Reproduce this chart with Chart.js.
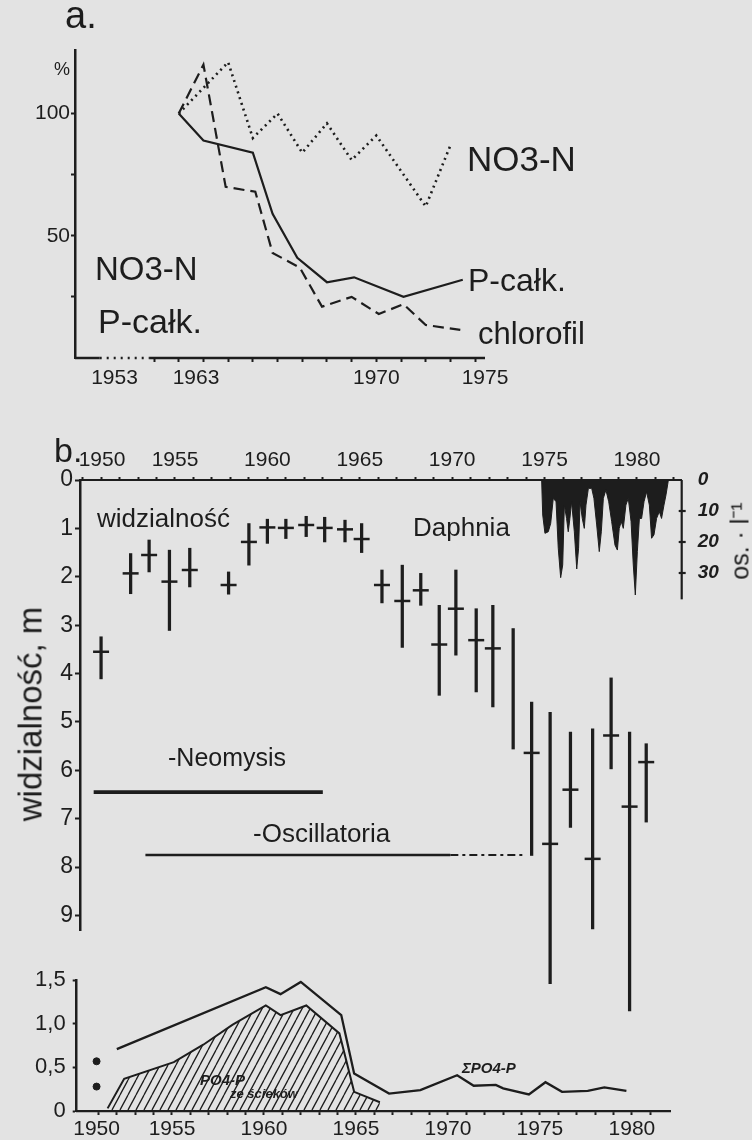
<!DOCTYPE html>
<html>
<head>
<meta charset="utf-8">
<script src="https://cdn.jsdelivr.net/npm/chart.js@4.4.0/dist/chart.umd.min.js"></script>
<style>
  body { margin: 0; background: #e3e3e3; }
  #page { position: relative; width: 752px; height: 1140px; overflow: hidden; background: #e3e3e3;
          font-family: "Liberation Sans", Arial, sans-serif; color: #1d1d1d; }
  #page canvas { position: absolute; left: 0; }
  .t { position: absolute; white-space: nowrap; line-height: 1; }
</style>
</head>
<body>
<div id="page">
  <canvas id="chart-a" width="752" height="400" style="top:0"></canvas>
  <canvas id="chart-b" width="752" height="600" style="top:440px"></canvas>
  <canvas id="chart-c" width="752" height="180" style="top:960px"></canvas>
</div>
<script>
// ---- a. relative change, % (1963 = 100)
const aYearsP = [1963, 1964, 1966, 1966.8, 1967.8, 1969, 1970.1, 1972.1, 1974.5];
const aPcalk = [100, 89, 84, 59, 41, 31, 33, 25, 32];
const aYearsChl = [1963, 1964, 1964.9, 1966.1, 1966.8, 1967.9, 1968.8, 1970, 1971.1, 1972.1, 1973, 1974.4];
const aChlorofil = [100, 120, 70, 68, 43, 37, 21, 25, 18, 22, 13.5, 11.5];
const aYearsNO3 = [1963, 1965, 1966, 1967, 1968, 1969, 1970, 1971, 1973, 1974];
const aNO3 = [100, 121, 90, 100, 84, 96, 81, 91, 62, 87];
const aTickLabels = ["1953", "1963", "1970", "1975"];

// ---- b. visibility (m): range and mean
const bYears = [1951.0, 1952.6, 1953.6, 1954.7, 1955.8, 1957.9, 1959.0, 1960.0, 1961.0, 1962.1, 1963.1, 1964.2, 1965.1, 1966.2,
                1967.3, 1968.3, 1969.3, 1970.2, 1971.3, 1972.2, 1973.3, 1974.3, 1975.3, 1976.4, 1977.6, 1978.6, 1979.6, 1980.5];
const bMin = [3.24, 1.52, 1.24, 1.45, 1.41, 1.90, 0.90, 0.81, 0.81, 0.75, 0.77, 0.83, 0.90, 1.86,
              1.76, 1.93, 2.59, 1.86, 2.66, 2.59, 3.07, 4.59, 4.80, 5.21, 5.14, 4.09, 5.21, 5.45];
const bMean = [3.55, 1.93, 1.55, 2.10, 1.86, 2.17, 1.28, 0.98, 0.99, 0.93, 0.99, 1.02, 1.22, 2.17,
               2.50, 2.28, 3.40, 2.66, 3.31, 3.48, null, 5.64, 7.52, 6.40, 7.83, 5.28, 6.75, 5.83];
const bMax = [4.11, 2.35, 1.90, 3.11, 2.21, 2.36, 1.76, 1.31, 1.21, 1.17, 1.28, 1.28, 1.50, 2.54,
              3.46, 2.59, 4.45, 3.62, 4.38, 4.69, 5.56, 7.76, 10.41, 7.18, 9.28, 5.97, 10.97, 7.07];
const neomysisYears = [1950.6, 1963.0];
const neomysisDepth = [6.45, 6.45];
const oscillYears = [1953.4, 1969.9];
const oscillLaterYears = [1969.9, 1974.0];
const oscillDepth = [7.75, 7.75];

// Daphnia, os. l-1
const daphniaYears = [1974.84, 1974.90, 1975.02, 1975.20, 1975.33, 1975.47, 1975.62, 1975.74, 1975.87, 1975.98, 1976.07, 1976.19,
  1976.28, 1976.37, 1976.46, 1976.61, 1976.74, 1976.84, 1976.92, 1977.04, 1977.15, 1977.24, 1977.37, 1977.55, 1977.67, 1977.82,
  1977.96, 1978.07, 1978.18, 1978.32, 1978.47, 1978.63, 1978.81, 1978.94, 1979.04, 1979.15, 1979.26, 1979.40, 1979.53, 1979.68,
  1979.80, 1979.91, 1980.02, 1980.13, 1980.25, 1980.38, 1980.52, 1980.67, 1980.79, 1980.92, 1981.06, 1981.21, 1981.33, 1981.46,
  1981.57, 1981.70];
const daphniaDensity = [0, 11.3, 17.2, 16.7, 14.0, 5.9, 7.0, 22.0, 31.5, 27.4, 8.1, 12.4,
  16.7, 12.4, 7.0, 16.7, 28.7, 22.0, 7.0, 12.4, 15.6, 8.1, 2.7, 2.7, 5.9, 14.5,
  23.1, 16.7, 5.9, 3.2, 7.0, 13.4, 21.0, 22.6, 15.6, 13.4, 15.6, 8.1, 5.9, 13.4,
  27.4, 37.1, 23.1, 12.4, 12.4, 7.0, 3.8, 8.1, 18.8, 17.7, 12.4, 10.2, 12.4, 8.1,
  4.8, 0];

// ---- bottom: phosphate, mg/l
const cYearsTotal = [1952.0, 1960.1, 1960.9, 1962.0, 1964.2, 1964.9, 1966.8, 1968.5, 1970.5, 1971.4, 1972.6, 1973.0,
                     1974.4, 1975.3, 1976.2, 1977.6, 1978.5, 1979.7];
const cTotalP = [0.71, 1.42, 1.34, 1.48, 1.10, 0.43, 0.20, 0.24, 0.41, 0.29, 0.30, 0.26,
                 0.19, 0.33, 0.22, 0.23, 0.27, 0.23];
const cYearsSewage = [1951.5, 1952.4, 1955.1, 1956.7, 1958.3, 1960.1, 1960.9, 1962.3, 1964.1, 1964.9, 1966.3];
const cSewageP = [0.03, 0.37, 0.56, 0.76, 0.99, 1.21, 1.10, 1.21, 0.89, 0.22, 0.10];
const cDotYears = [1950.9, 1950.9];
const cDotValues = [0.57, 0.28];

const INK = "#1d1d1d";
Chart.defaults.font.family = '"Liberation Sans", Arial, sans-serif';
Chart.defaults.color = INK;
Chart.defaults.animation = false;
Chart.defaults.plugins.legend.display = false;
Chart.defaults.plugins.tooltip.enabled = false;

function pts(xs, ys) {
  return xs.map((x, i) => ({ x: x, y: ys[i] })).filter(p => p.y !== null);
}
function yearTicks(from, to, step) {
  const t = [];
  for (let v = from; v <= to + 1e-9; v += step) t.push({ value: Math.round(v * 100) / 100 });
  return t;
}
function line(ctx, x1, y1, x2, y2) {
  ctx.beginPath(); ctx.moveTo(x1, y1); ctx.lineTo(x2, y2); ctx.stroke();
}
function lineSet(xs, ys, extra) {
  return Object.assign({ type: "line", data: pts(xs, ys), borderColor: INK, borderWidth: 2.2, pointRadius: 0, tension: 0, fill: false }, extra);
}
// tick marks only where no extra label tick sits
const tickInk = c => (c.tick && c.tick.lbl ? "rgba(0,0,0,0)" : INK);
const tickText = (v, i, t) => (t[i].lbl !== undefined ? t[i].lbl : "");

// ---- chart a
const aLabelAt = [1960.4, 1963.7, 1971.0, 1975.4];
new Chart(document.getElementById("chart-a"), {
  type: "line",
  data: {
    datasets: [
      lineSet(aYearsP, aPcalk),
      lineSet(aYearsChl, aChlorofil, { borderDash: [11, 6] }),
      lineSet(aYearsNO3, aNO3, { borderWidth: 2.6, borderDash: [2, 4] })
    ]
  },
  options: {
    responsive: false,
    layout: { padding: { left: 0, top: 50, right: 267, bottom: 0 } },
    scales: {
      x: {
        type: "linear", min: 1958.8, max: 1975.4,
        afterFit: s => { s.height = 42; },
        afterBuildTicks: s => {
          s.ticks = yearTicks(1962, 1975, 1).concat(aLabelAt.map((v, i) => ({ value: v, lbl: aTickLabels[i] })));
        },
        border: { display: false },
        grid: { drawOnChartArea: false, tickLength: 4, tickWidth: 2, tickColor: tickInk },
        ticks: { autoSkip: false, maxRotation: 0, padding: 4, font: { size: 21 }, callback: tickText }
      },
      y: {
        min: 0, max: 126,
        afterFit: s => { s.width = 75; },
        afterBuildTicks: s => { s.ticks = yearTicks(25, 100, 25); },
        border: { color: INK, width: 2.5 },
        grid: { drawOnChartArea: false, tickLength: 4, tickWidth: 2, tickColor: INK },
        ticks: { padding: 1, font: { size: 21 }, callback: v => (v === 50 || v === 100 ? String(v) : "") }
      }
    }
  },
  plugins: [{
    id: "brokenAxis",
    afterDraw(chart) {
      const { ctx, chartArea, scales: { x } } = chart;
      const b = chartArea.bottom;
      ctx.save();
      ctx.strokeStyle = INK; ctx.lineWidth = 2.5;
      line(ctx, chartArea.left, b, x.getPixelForValue(1959.8), b);
      line(ctx, x.getPixelForValue(1961.8), b, chartArea.right, b);
      ctx.setLineDash([2, 5]);
      line(ctx, x.getPixelForValue(1959.8), b, x.getPixelForValue(1961.8), b);
      ctx.restore();
    }
  }]
});

// ---- chart b
const bLabelYears = [1951.05, 1955, 1960, 1965, 1970, 1975, 1980];
const bTickLabels = ["1950", "1955", "1960", "1965", "1970", "1975", "1980"];
new Chart(document.getElementById("chart-b"), {
  type: "bar",
  data: {
    datasets: [
      { type: "line", yAxisID: "yD", data: pts(daphniaYears, daphniaDensity), borderColor: INK, borderWidth: 1,
        backgroundColor: INK, fill: "origin", pointRadius: 0, tension: 0 },
      { type: "bar", data: bYears.map((x, i) => ({ x: x, y: [bMin[i], bMax[i]] })), backgroundColor: INK,
        barThickness: 2.6, clip: false },
      { type: "line", data: pts(bYears, bMean), showLine: false, pointStyle: "line", pointRadius: 8,
        pointBorderWidth: 2.5, pointBorderColor: INK, clip: false },
      lineSet(neomysisYears, neomysisDepth, { borderWidth: 3.6 }),
      lineSet(oscillYears, oscillDepth, { borderWidth: 2.6 }),
      lineSet(oscillLaterYears, oscillDepth, { borderWidth: 2.2, borderDash: [8, 4, 3, 4] })
    ]
  },
  options: {
    responsive: false,
    layout: { padding: { left: 0, top: 0, right: 0, bottom: 110 } },
    scales: {
      x: {
        type: "linear", position: "top", offset: false, min: 1949.86, max: 1982.42,
        afterFit: s => { s.height = 40; },
        afterBuildTicks: s => {
          s.ticks = yearTicks(1950, 1982, 1).concat(bLabelYears.map((v, i) => ({ value: v, lbl: bTickLabels[i] })));
        },
        border: { color: INK, width: 2 },
        grid: { drawOnChartArea: false, tickLength: 3, tickWidth: 2, tickColor: tickInk, offset: false },
        ticks: { autoSkip: false, maxRotation: 0, padding: 4, font: { size: 21 }, callback: tickText }
      },
      y: {
        reverse: true, min: 0, max: 9.3,
        afterFit: s => { s.width = 80; },
        afterBuildTicks: s => { s.ticks = yearTicks(0, 9, 1); },
        border: { color: INK, width: 2.5 },
        grid: { drawOnChartArea: false, tickLength: 5, tickWidth: 2, tickColor: INK },
        ticks: { padding: 2, font: { size: 23 } }
      },
      yD: {
        position: "right", reverse: true, min: 0, max: 145.16,
        afterFit: s => { s.width = 70.3; },
        afterBuildTicks: s => { s.ticks = yearTicks(0, 30, 10); },
        border: { display: false },
        grid: { display: false },
        ticks: { padding: 8, font: { size: 19, style: "italic", weight: "bold" } }
      }
    }
  },
  plugins: [{
    id: "daphniaAxis",
    afterDraw(chart) {
      const { ctx, chartArea, scales: { yD } } = chart;
      const r = chartArea.right;
      ctx.save();
      ctx.strokeStyle = INK; ctx.lineWidth = 2.2;
      line(ctx, r, yD.getPixelForValue(0), r, yD.getPixelForValue(38.5));
      [10, 20, 30].forEach(v => line(ctx, r - 3, yD.getPixelForValue(v), r + 4, yD.getPixelForValue(v)));
      ctx.restore();
    }
  }]
});

// ---- chart c
const cLabelYears = [1950.9, 1955, 1960, 1965, 1970, 1975, 1980];
const cCanvas = document.getElementById("chart-c");
function hatch(target) {
  const c = document.createElement("canvas");
  c.width = 8; c.height = 15;
  const g = c.getContext("2d");
  g.strokeStyle = INK; g.lineWidth = 1.3;
  g.beginPath();
  g.moveTo(0, 15); g.lineTo(8, 0);
  g.moveTo(-8, 15); g.lineTo(0, 0);
  g.moveTo(8, 15); g.lineTo(16, 0);
  g.stroke();
  return target.getContext("2d").createPattern(c, "repeat");
}
new Chart(cCanvas, {
  type: "line",
  data: {
    datasets: [
      lineSet(cYearsSewage, cSewageP, { fill: "origin", backgroundColor: hatch(cCanvas), borderWidth: 2 }),
      lineSet(cYearsTotal, cTotalP, { borderWidth: 2.3 }),
      { type: "scatter", data: pts(cDotYears, cDotValues), pointRadius: 3.5, backgroundColor: INK, borderColor: INK }
    ]
  },
  options: {
    responsive: false,
    layout: { padding: { left: 0, top: 18, right: 82, bottom: 0 } },
    scales: {
      x: {
        type: "linear", min: 1949.82, max: 1982.07,
        afterFit: s => { s.height = 29; },
        afterBuildTicks: s => {
          s.ticks = yearTicks(1951, 1981, 1).concat(cLabelYears.map((v, i) => ({ value: v, lbl: bTickLabels[i] })));
        },
        border: { color: INK, width: 2.2 },
        grid: { drawOnChartArea: false, tickLength: 4, tickWidth: 2, tickColor: tickInk },
        ticks: { autoSkip: false, maxRotation: 0, padding: 2, font: { size: 21 }, callback: tickText }
      },
      y: {
        min: 0, max: 1.5,
        afterFit: s => { s.width = 76.7; },
        afterBuildTicks: s => { s.ticks = yearTicks(0, 1.5, 0.5); },
        border: { color: INK, width: 2.5 },
        grid: { drawOnChartArea: false, tickLength: 4, tickWidth: 2, tickColor: INK },
        ticks: { padding: 7, font: { size: 22 }, callback: v => (v === 0 ? "0" : v.toFixed(1).replace(".", ",")) }
      }
    }
  }
});

// ---- text on the figure
const page = document.getElementById("page");
function label(text, x, base, size, extra) {
  const d = document.createElement("div");
  d.className = "t";
  d.textContent = text;
  d.style.left = x + "px";
  d.style.top = (base - 0.85 * size) + "px";
  d.style.fontSize = size + "px";
  Object.assign(d.style, extra || {});
  page.appendChild(d);
}
function vlabel(text, cx, cy, size) {
  const d = document.createElement("div");
  d.className = "t";
  d.textContent = text;
  d.style.left = cx + "px";
  d.style.top = cy + "px";
  d.style.fontSize = size + "px";
  d.style.transform = "translate(-50%, -50%) rotate(-90deg)";
  page.appendChild(d);
}
label("a.", 65, 28, 38);
label("%", 54, 75, 18);
label("NO3-N", 467, 171, 35);
label("P-całk.", 468, 291, 32);
label("chlorofil", 478, 344, 31);
label("NO3-N", 95, 280, 33);
label("P-całk.", 98, 333, 34);
label("b.", 54, 462, 34);
label("widzialność", 97, 527, 26);
label("Daphnia", 413, 536, 26);
label("-Neomysis", 168, 766, 25);
label("-Oscillatoria", 253, 842, 26);
vlabel("widzialność, m", 30, 714, 33);
vlabel("os. · l⁻¹", 740, 541, 25);
label("PO4-P", 200, 1085, 15, { fontStyle: "italic", fontWeight: "bold" });
label("ze ścieków", 230, 1098, 13, { fontStyle: "italic", fontWeight: "bold" });
label("ΣPO4-P", 462, 1073, 15, { fontStyle: "italic", fontWeight: "bold" });
</script>
</body>
</html>
